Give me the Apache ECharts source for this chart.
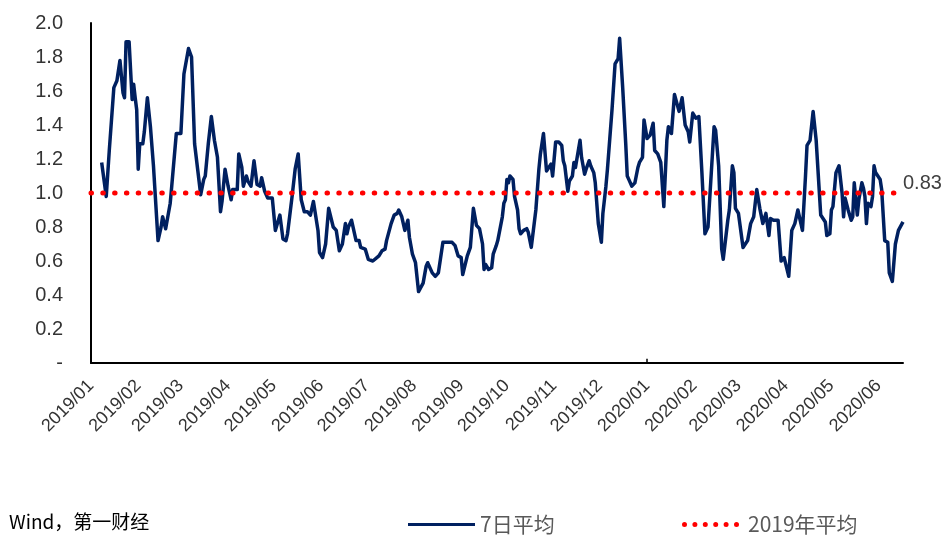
<!DOCTYPE html>
<html>
<head>
<meta charset="utf-8">
<script src="https://cdn.jsdelivr.net/npm/echarts@6/dist/echarts.min.js"></script>
<style>html,body{margin:0;padding:0;background:#fff}#c{width:942px;height:539px}</style>
</head>
<body>
<div id="c"></div>
<script>
var seriesNames = ['7日平均', '2019年平均'];
var axisStart = '2019-01-01';
var axisEnd = '2020-06-17';
var yearTick = '2020-01-01';
var avg2019 = 1.0;
var yTicks = [0, 0.2, 0.4, 0.6, 0.8, 1.0, 1.2, 1.4, 1.6, 1.8, 2.0];
var sourceText = 'Wind，第一财经';

var dates = [
'2019-01-08','2019-01-11','2019-01-13','2019-01-16','2019-01-18','2019-01-20','2019-01-22','2019-01-23','2019-01-24','2019-01-26',
'2019-01-28','2019-01-29','2019-01-30','2019-01-31','2019-02-01','2019-02-02','2019-02-04','2019-02-05','2019-02-07','2019-02-09',
'2019-02-11','2019-02-14','2019-02-16','2019-02-17','2019-02-19','2019-02-22','2019-02-23','2019-02-26','2019-03-01','2019-03-03',
'2019-03-06','2019-03-08','2019-03-10','2019-03-14','2019-03-16','2019-03-17','2019-03-19','2019-03-21','2019-03-22','2019-03-23',
'2019-03-25','2019-03-27','2019-03-28','2019-03-30','2019-04-01','2019-04-03','2019-04-04','2019-04-07','2019-04-08','2019-04-10',
'2019-04-11','2019-04-13','2019-04-14','2019-04-16','2019-04-18','2019-04-19','2019-04-20','2019-04-22','2019-04-23','2019-04-25',
'2019-04-27','2019-04-30','2019-05-02','2019-05-05','2019-05-07','2019-05-09','2019-05-10','2019-05-13','2019-05-15','2019-05-17',
'2019-05-19','2019-05-21','2019-05-23','2019-05-25','2019-05-27','2019-05-28','2019-05-30','2019-05-31','2019-06-02','2019-06-04',
'2019-06-06','2019-06-09','2019-06-11','2019-06-13','2019-06-15','2019-06-17','2019-06-18','2019-06-19','2019-06-21','2019-06-23',
'2019-06-24','2019-06-26','2019-06-27','2019-06-30','2019-07-02','2019-07-05','2019-07-09','2019-07-11','2019-07-13','2019-07-14',
'2019-07-17','2019-07-19','2019-07-21','2019-07-22','2019-07-23','2019-07-24','2019-07-26','2019-07-28','2019-07-29','2019-07-31',
'2019-08-02','2019-08-04','2019-08-07','2019-08-09','2019-08-10','2019-08-13','2019-08-15','2019-08-17','2019-08-18','2019-08-20',
'2019-08-23','2019-08-26','2019-08-28','2019-08-30','2019-09-01','2019-09-02','2019-09-05','2019-09-07','2019-09-09','2019-09-11',
'2019-09-13','2019-09-15','2019-09-16','2019-09-17','2019-09-19','2019-09-21','2019-09-22','2019-09-24','2019-09-25','2019-09-28',
'2019-09-29','2019-09-30','2019-10-01','2019-10-02','2019-10-03','2019-10-05','2019-10-06','2019-10-08','2019-10-09','2019-10-10',
'2019-10-12','2019-10-14','2019-10-15','2019-10-17','2019-10-18','2019-10-20','2019-10-22','2019-10-23','2019-10-25','2019-10-27',
'2019-10-30','2019-10-31','2019-11-02','2019-11-04','2019-11-06','2019-11-07','2019-11-08','2019-11-10','2019-11-11','2019-11-13',
'2019-11-14','2019-11-15','2019-11-18','2019-11-19','2019-11-21','2019-11-22','2019-11-24','2019-11-25','2019-11-27','2019-11-28',
'2019-11-30','2019-12-02','2019-12-03','2019-12-05','2019-12-06','2019-12-07','2019-12-09','2019-12-11','2019-12-13','2019-12-14',
'2019-12-16','2019-12-18','2019-12-19','2019-12-20','2019-12-22','2019-12-24','2019-12-26','2019-12-27','2019-12-29','2019-12-30',
'2020-01-01','2020-01-03','2020-01-05','2020-01-06','2020-01-08','2020-01-10','2020-01-12','2020-01-14','2020-01-15','2020-01-17',
'2020-01-19','2020-01-22','2020-01-24','2020-01-26','2020-01-28','2020-01-29','2020-01-31','2020-02-02','2020-02-04','2020-02-06',
'2020-02-08','2020-02-10','2020-02-14','2020-02-15','2020-02-17','2020-02-19','2020-02-20','2020-02-23','2020-02-24','2020-02-26',
'2020-02-27','2020-02-28','2020-03-01','2020-03-04','2020-03-05','2020-03-07','2020-03-09','2020-03-11','2020-03-13','2020-03-15',
'2020-03-17','2020-03-19','2020-03-21','2020-03-22','2020-03-24','2020-03-27','2020-03-29','2020-03-31','2020-04-03','2020-04-05',
'2020-04-07','2020-04-09','2020-04-12','2020-04-14','2020-04-15','2020-04-17','2020-04-19','2020-04-21','2020-04-24','2020-04-27',
'2020-04-28','2020-04-30','2020-05-01','2020-05-02','2020-05-04','2020-05-05','2020-05-06','2020-05-08','2020-05-09','2020-05-10',
'2020-05-12','2020-05-14','2020-05-15','2020-05-16','2020-05-17','2020-05-18','2020-05-19','2020-05-21','2020-05-22','2020-05-23',
'2020-05-24','2020-05-25','2020-05-27','2020-05-28','2020-05-29','2020-05-30','2020-06-02','2020-06-03','2020-06-05','2020-06-07',
'2020-06-08','2020-06-10','2020-06-11','2020-06-12','2020-06-14','2020-06-15','2020-06-17'
];
var values = [
1.18,0.98,1.25,1.62,1.66,1.78,1.59,1.56,1.89,1.89,
1.55,1.64,1.56,1.49,1.14,1.29,1.29,1.36,1.56,1.39,
1.16,0.72,0.80,0.86,0.79,0.94,1.04,1.35,1.35,1.70,
1.85,1.80,1.29,0.99,1.08,1.10,1.29,1.45,1.46,1.31,
1.21,0.89,0.95,1.14,1.04,0.96,1.02,1.02,1.23,1.15,
1.04,1.10,1.07,1.04,1.19,1.19,1.05,1.04,1.09,1.01,
0.97,0.97,0.78,0.87,0.73,0.72,0.76,0.98,1.14,1.23,
0.96,0.89,0.89,0.87,0.95,0.94,0.78,0.65,0.62,0.70,
0.91,0.80,0.78,0.66,0.70,0.82,0.76,0.80,0.84,0.76,
0.72,0.72,0.68,0.67,0.61,0.60,0.63,0.66,0.67,0.72,
0.82,0.87,0.88,0.90,0.90,0.86,0.78,0.84,0.74,0.64,
0.59,0.42,0.47,0.57,0.59,0.53,0.51,0.53,0.59,0.71,
0.71,0.71,0.69,0.63,0.62,0.52,0.63,0.68,0.91,0.81,
0.79,0.70,0.55,0.58,0.55,0.56,0.64,0.69,0.72,0.86,
0.94,0.96,1.08,1.06,1.10,1.08,0.98,0.90,0.79,0.76,
0.78,0.79,0.77,0.68,0.68,0.90,1.14,1.23,1.35,1.13,
1.17,1.10,1.30,1.30,1.28,1.19,1.16,1.01,1.07,1.10,
1.18,1.15,1.31,1.21,1.11,1.14,1.19,1.16,1.12,1.06,
0.82,0.71,0.88,1.04,1.14,1.13,1.49,1.76,1.79,1.91,
1.62,1.29,1.10,1.08,1.04,1.06,1.15,1.18,1.21,1.43,
1.32,1.34,1.41,1.25,1.23,1.18,0.92,1.31,1.39,1.35,
1.58,1.48,1.56,1.40,1.36,1.30,1.47,1.44,1.45,1.12,
0.76,0.80,1.39,1.37,1.16,0.67,0.61,0.84,0.90,1.16,
1.12,0.91,0.88,0.68,0.68,0.72,0.82,0.86,1.02,0.91,
0.82,0.88,0.75,0.85,0.84,0.84,0.60,0.62,0.51,0.78,
0.82,0.90,0.78,1.10,1.28,1.31,1.48,1.31,0.87,0.83,
0.75,0.76,0.90,0.92,1.12,1.13,1.16,1.00,0.86,0.97,
0.90,0.84,0.86,1.06,1.07,0.87,0.96,1.06,1.03,0.98,
0.82,0.94,0.92,0.98,1.16,1.12,1.08,1.02,0.72,0.71,
0.53,0.48,0.48,0.70,0.78,0.79,0.83
];

var lineData = dates.map(function (d, i) { return [d, values[i]]; });
var avgData = [[axisStart, avg2019], [axisEnd, avg2019]];

// dotted legend icon: six round dots
var dotPath = 'path://';
for (var k = 0; k < 6; k++) {
  var cx = 2.5 + k * 10.4;
  dotPath += 'M' + (cx - 2.5) + ',2.5a2.5,2.5 0 1,0 5,0a2.5,2.5 0 1,0 -5,0Z';
}

var cjk = '"Noto Sans CJK SC", "Liberation Sans", sans-serif';
var chart = echarts.init(document.getElementById('c'), null, { renderer: 'canvas' });
chart.setOption({
  animation: false,
  backgroundColor: '#ffffff',
  title: {
    text: sourceText, left: 4, top: 507,
    textStyle: { fontSize: 19, fontWeight: 'normal', color: '#000', fontFamily: cjk }
  },
  legend: [{
    data: [{ name: seriesNames[0], icon: 'rect' }],
    left: 408, top: 514, padding: 0, itemWidth: 67, itemHeight: 3,
    itemStyle: { borderWidth: 0 },
    textStyle: { fontSize: 21, color: '#595959', fontFamily: cjk }
  }, {
    data: [{ name: seriesNames[1], icon: dotPath }],
    left: 682, top: 514, padding: 0, itemWidth: 57, itemHeight: 5,
    itemStyle: { borderWidth: 0 },
    textStyle: { fontSize: 21, color: '#595959', fontFamily: cjk, padding: [0, 0, 0, 4] }
  }],
  grid: { left: 91, right: 39, top: 23, bottom: 176, containLabel: false, outerBoundsMode: 'none' },
  xAxis: {
    type: 'time',
    min: axisStart, max: axisEnd,
    minInterval: 28 * 86400000, maxInterval: 31 * 86400000,
    axisLine: { lineStyle: { color: '#000', width: 2 } },
    axisTick: { show: false },
    splitLine: { show: false },
    axisLabel: {
      rotate: 45, margin: 20, fontSize: 18, color: '#333',
      fontFamily: '"Liberation Sans", sans-serif',
      formatter: '{yyyy}/{MM}', showMaxLabel: false, hideOverlap: false
    }
  },
  yAxis: {
    type: 'value', min: yTicks[0], max: yTicks[yTicks.length - 1], interval: 0.2,
    axisLine: { show: true, lineStyle: { color: '#000', width: 2 } },
    axisTick: { show: false },
    splitLine: { show: false },
    axisLabel: {
      margin: 28, fontSize: 20, color: '#333', fontFamily: '"Liberation Sans", sans-serif',
      formatter: function (v) { return Math.abs(v) < 1e-9 ? '-' : v.toFixed(1); }
    }
  },
  series: [{
    name: seriesNames[0], type: 'line', data: lineData,
    symbol: 'none', smooth: false,
    lineStyle: { color: '#002060', width: 3.5, join: 'round' },
    itemStyle: { color: '#002060' },
    endLabel: {
      show: true, color: '#404040', fontSize: 20, fontFamily: '"Liberation Sans", sans-serif',
      offset: [-8, -38],
      formatter: function (p) { return p.value[1].toFixed(2); }
    },
    markLine: {
      silent: true, symbol: 'none', label: { show: false },
      lineStyle: { color: '#000', width: 1.5, type: 'solid' },
      data: [[{ coord: [yearTick, 0] }, { coord: [yearTick, 0.025] }]]
    }
  }, {
    name: seriesNames[1], type: 'line', data: avgData,
    symbol: 'none',
    lineStyle: { color: '#ff0000', width: 5, type: [0.5, 11.3], cap: 'round' },
    itemStyle: { color: '#ff0000' }
  }]
});
</script>
</body>
</html>
